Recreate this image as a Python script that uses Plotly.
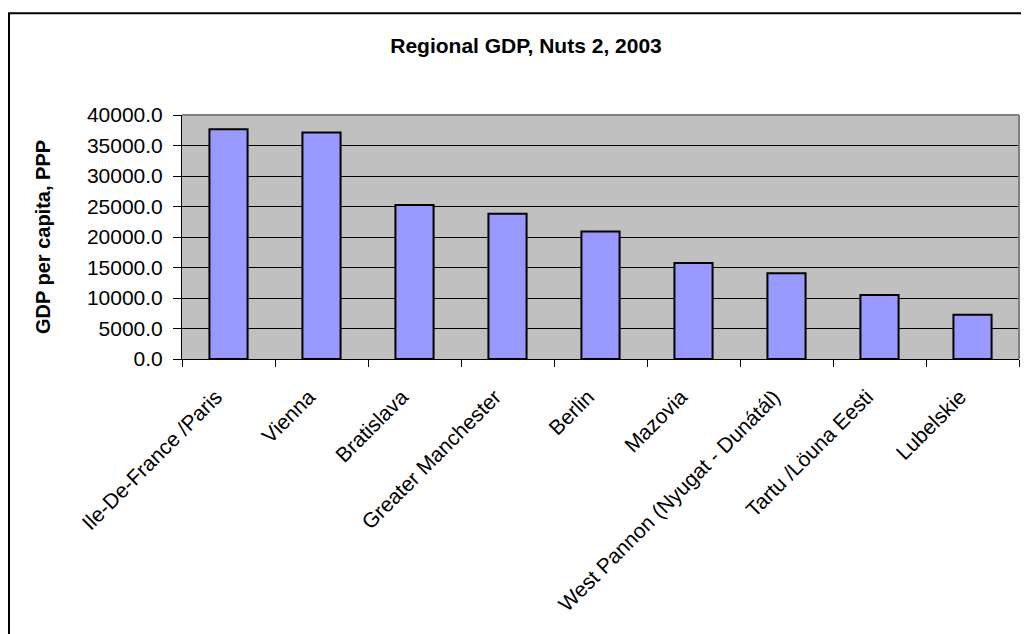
import plotly.graph_objects as go

regions = ["Ile-De-France /Paris", "Vienna", "Bratislava", "Greater Manchester", "Berlin",
           "Mazovia", "West Pannon (Nyugat - Dunátál)", "Tartu /Löuna Eesti", "Lubelskie"]
gdp_ppp = [37650, 37150, 25250, 23800, 20900, 15750, 14050, 10500, 7250]
y_ticks = [0, 5000, 10000, 15000, 20000, 25000, 30000, 35000, 40000]
chart_title = "Regional GDP, Nuts 2, 2003"
y_title = "GDP per capita, PPP"

FONT = "Liberation Sans, Arial, sans-serif"
OFF = 8  # browser body margin

fig = go.Figure(go.Bar(
    x=regions, y=gdp_ppp,
    marker=dict(color="#9999FF", line=dict(color="black", width=2)),
    width=0.41,
))

W, H = 1029 - OFF, 634 - OFF
L, R, T, B = 182 - OFF, 1019 - OFF, 115 - OFF, 359.5 - OFF

fig.update_layout(
    width=W, height=H,
    margin=dict(l=L, r=W - R, t=T, b=H - B, pad=0),
    paper_bgcolor="white", plot_bgcolor="#C0C0C0",
    font=dict(family=FONT, size=21, color="black"),
    showlegend=False,
    title=dict(text="<b>" + chart_title + "</b>", x=(526 - OFF) / W, xanchor="center",
               y=1 - (46 - OFF) / H, yanchor="middle", font=dict(size=21, family=FONT)),
    xaxis=dict(type="category", tickangle=-45, showline=True, linecolor="black", linewidth=1,
               ticks="outside", tickson="boundaries", ticklen=7, tickcolor="black",
               showgrid=False, tickfont=dict(size=21),
               tickvals=regions, ticktext=[r + "\u00a0\u00a0\u00a0" for r in regions],
               ticklabelstandoff=4),
    yaxis=dict(range=[0, 40000], tickvals=y_ticks, tickformat=".1f", showline=True,
               linecolor="black", linewidth=1, ticks="outside", ticklen=8, tickcolor="black",
               gridcolor="black", gridwidth=1, zeroline=False, tickfont=dict(size=21),
               ticklabelstandoff=6,
               title=dict(text="<b>" + y_title + "</b>", font=dict(size=20), standoff=30)),
)

# top/right plot border (gray)
fig.add_shape(type="line", xref="paper", yref="paper", x0=0, x1=1, y0=1, y1=1,
              line=dict(color="#808080", width=2))
fig.add_shape(type="line", xref="paper", yref="paper", x0=1, x1=1, y0=0, y1=1,
              line=dict(color="#808080", width=2))

# outer chart frame
pw, ph = R - L, B - T
fig.add_shape(type="rect", xref="paper", yref="paper",
              x0=(9 - OFF - L) / pw, x1=(1060 - L) / pw,
              y0=(B - 700) / ph, y1=(B - (13 - OFF)) / ph,
              line=dict(color="black", width=2), fillcolor="rgba(0,0,0,0)", layer="below")

fig.write_html("out.html")
